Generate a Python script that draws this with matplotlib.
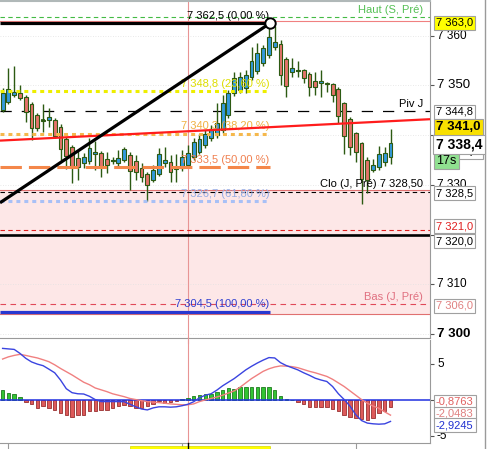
import matplotlib
matplotlib.use("Agg")
import matplotlib.pyplot as plt
import matplotlib.transforms as mtransforms
from matplotlib.lines import Line2D
from matplotlib.patches import Rectangle

plt.rcParams['font.family'] = ['Liberation Sans', 'DejaVu Sans']

# ---------------- candles (68 bars) ----------------
opens = [7345.1, 7346.7, 7348.1, 7348.5, 7347.7, 7346.3, 7344.0, 7343.1, 7343.0, 7343.0,
         7341.6, 7339.2, 7337.6, 7335.4, 7334.4, 7334.8, 7336.2, 7336.4, 7335.2, 7334.9,
         7334.4, 7335.0, 7336.0, 7334.8, 7333.4, 7332.2, 7331.0, 7332.2, 7334.4, 7334.6,
         7333.2, 7333.4, 7334.0, 7335.6, 7336.6, 7338.0, 7339.4, 7340.0, 7341.0, 7344.0,
         7348.5, 7349.1, 7349.5, 7351.7, 7352.9, 7354.5, 7356.1, 7357.7, 7358.3, 7355.3,
         7352.7, 7353.0, 7353.1, 7352.3, 7350.9, 7350.5, 7350.5, 7350.3, 7349.3, 7346.5,
         7343.2, 7340.4, 7338.4, 7335.0, 7333.0, 7333.6, 7334.6, 7335.6]
highs = [7349.5, 7353.5, 7353.9, 7350.0, 7348.0, 7346.6, 7344.4, 7346.3, 7345.5, 7343.4,
         7342.2, 7339.6, 7338.0, 7336.8, 7336.4, 7339.4, 7338.8, 7336.8, 7336.6, 7335.6,
         7337.0, 7337.6, 7336.6, 7336.0, 7334.4, 7332.6, 7334.0, 7337.4, 7337.6, 7336.0,
         7336.2, 7337.0, 7338.0, 7339.4, 7340.2, 7341.0, 7342.0, 7346.4, 7348.1, 7349.1,
         7352.7, 7352.6, 7353.0, 7357.7, 7358.5, 7358.1, 7362.5, 7362.0, 7359.1, 7355.7,
         7355.5, 7354.9, 7353.3, 7352.7, 7352.7, 7353.1, 7350.7, 7350.5, 7349.7, 7346.7,
         7343.6, 7340.6, 7338.6, 7335.6, 7335.2, 7337.8, 7337.6, 7341.2]
lows = [7344.6, 7346.2, 7347.6, 7347.0, 7342.6, 7339.0, 7340.8, 7340.6, 7341.6, 7339.4,
        7335.0, 7333.2, 7330.4, 7331.0, 7333.4, 7334.2, 7333.0, 7331.6, 7332.4, 7334.2,
        7333.8, 7334.6, 7329.0, 7331.0, 7330.6, 7326.7, 7330.6, 7331.8, 7333.6, 7330.6,
        7330.6, 7332.8, 7333.4, 7335.0, 7336.2, 7337.4, 7338.8, 7339.4, 7340.4, 7343.4,
        7347.9, 7348.4, 7348.5, 7351.1, 7352.3, 7353.9, 7355.5, 7357.1, 7350.1, 7347.7,
        7351.7, 7351.7, 7350.5, 7347.9, 7348.1, 7347.7, 7348.6, 7346.7, 7342.4, 7336.2,
        7336.0, 7334.6, 7326.2, 7328.4, 7332.6, 7333.0, 7333.8, 7334.2]
closes = [7348.5, 7349.3, 7348.7, 7347.5, 7344.7, 7341.4, 7341.4, 7342.9, 7343.6, 7339.8,
          7337.2, 7335.8, 7333.6, 7333.6, 7335.6, 7337.4, 7336.6, 7333.6, 7334.0, 7334.7,
          7335.4, 7337.2, 7332.8, 7332.6, 7331.6, 7330.0, 7333.0, 7336.2, 7335.0, 7332.6,
          7333.6, 7335.6, 7336.4, 7338.6, 7339.2, 7340.2, 7341.0, 7342.4, 7346.5, 7348.5,
          7351.5, 7351.7, 7352.1, 7354.9, 7356.5, 7357.5, 7359.7, 7358.7, 7352.1, 7349.9,
          7353.5, 7352.9, 7351.5, 7349.7, 7349.7, 7350.9, 7350.2, 7348.1, 7343.8, 7339.8,
          7337.6, 7336.6, 7331.2, 7331.0, 7334.0, 7336.2, 7336.4, 7338.4]

# ---------------- MACD ----------------
macd_hist = [1.43, 1.06, 0.87, 0.46, -0.23, -0.55, -1.0, -0.83, -1.0, -1.38,
             -1.79, -1.98, -2.34, -2.07, -1.98, -1.52, -1.43, -1.38, -1.38, -1.10,
             -0.83, -0.64, -0.83, -1.0, -1.10, -0.83, -0.55, -0.15, -0.32, -0.23,
             -0.05, 0.18, 0.32, 0.55, 0.74, 0.87, 0.87, 1.15, 1.38, 1.66,
             1.61, 1.79, 1.79, 1.79, 1.79, 1.79, 1.79, 1.43, 0.6, 0.18,
             0.05, -0.28, -0.55, -0.92, -0.92, -0.92, -0.92, -1.24, -1.43, -2.07,
             -2.25, -2.44, -2.62, -2.71, -2.39, -1.70, -1.52, -0.88]
macd_line = [7.17, 7.1, 7.03, 6.48, 5.8, 5.3, 5.0, 4.78, 4.3, 3.8,
             2.8, 1.6, 1.05, 0.9, 0.87, 0.55, 0.1, -0.18, -0.18, -0.18,
             -0.18, -0.2, -0.55, -0.9, -1.2, -1.33, -1.05, -0.9, -0.9, -0.95,
             -0.9, -0.75, -0.55, -0.2, 0.35, 0.7, 0.9, 1.4, 2.0, 2.5,
             3.0, 3.6, 4.2, 4.7, 5.15, 5.55, 5.9, 5.85, 5.2, 4.8,
             4.5, 4.2, 3.8, 3.45, 3.05, 2.8, 2.6, 1.9, 0.9, 0.1,
             -0.8, -2.0, -2.8, -3.15, -3.25, -3.3, -3.25, -2.92]
macd_signal = [5.7, 6.0, 6.2, 6.35, 6.2, 6.02, 5.85, 5.6, 5.33, 4.9,
               4.4, 3.95, 3.5, 3.0, 2.5, 2.15, 1.7, 1.45, 1.2, 0.9,
               0.7, 0.5, 0.25, 0.1, -0.05, -0.18, -0.25, -0.32, -0.41, -0.5,
               -0.56, -0.62, -0.62, -0.5, -0.18, 0.05, 0.25, 0.45, 0.7, 1.0,
               1.3, 1.8, 2.4, 3.0, 3.5, 4.0, 4.35, 4.6, 4.75, 4.72,
               4.65, 4.5, 4.25, 4.0, 3.8, 3.55, 3.3, 2.9, 2.4, 1.9,
               1.3, 0.7, 0.1, -0.4, -0.8, -1.1, -1.6, -2.05]
macd_last = [-0.8763, -2.0483, -2.9245]

# ---------------- levels / drawings ----------------
fib_levels = [7362.5, 7348.8, 7340.3, 7333.5, 7326.7, 7304.5]
fib_pcts = [0.0, 23.6, 38.2, 50.0, 61.8, 100.0]
fib_end_bar = 46.2
haut_sem = 7363.7
day_high = 7363.0
piv_j = 7344.8
clo_j = 7328.5
lvl_red = 7321.0
lvl_black = 7320.0
bas_j = 7306.0
zone_low, zone_high = 7304.0, 7329.0
trend_black_x, trend_black_y = [-0.45, 46.2], [7326.4, 7362.5]
trend_red_x, trend_red_y = [-0.45, 73.82], [7338.9, 7343.2]
price_ticks = [7300, 7310, 7320, 7330, 7340, 7350, 7360]
price_tick_labels = [7360, 7350, 7330, 7310, 7300]
bid_price = 7341.0
last_price = 7338.4
countdown = "17s"
crosshair_bar = 32
time_ticks = [1, 31, 61]


def fmt(v, d=1):
    s = f"{v:,.{d}f}"
    return s.replace(",", " ").replace(".", ",")


W, H = 489, 449
fig = plt.figure(figsize=(W / 100, H / 100), dpi=100)
fig.patch.set_facecolor('white')


def fx(px):
    return px / W


def fy(py):
    return 1 - py / H


ax = fig.add_axes([0, fy(338), fx(430), (338 - 1) / H])
axm = fig.add_axes([0, fy(443), fx(430), (443 - 340) / H])
XMIN, XMAX = -0.45, 73.82
for a in (ax, axm):
    a.set_xlim(XMIN, XMAX)
    a.set_facecolor('white')
ax.set_ylim(7299.22, 7366.96)
axm.set_ylim(-5.9, 8.33)

n = len(opens)
idx = list(range(n))

# zone
ax.axhspan(zone_low, zone_high, facecolor='#fde7e7', edgecolor='none', zorder=0)
ax.axhline(zone_high, color='#e07070', lw=0.8, zorder=1)
ax.axhline(zone_low, color='#e07070', lw=0.8, zorder=1)

# faint grid
for t in price_ticks:
    ax.axhline(t, color='#e2e2e2', lw=0.6, ls=(0, (1, 2)), zorder=0.5)

# horizontal levels
ax.axhline(haut_sem, color='#44bb44', lw=0.8, ls=(0, (4, 3)), zorder=1.5)
ax.axhline(day_high, color='#f08080', lw=0.8, zorder=1.2)
ax.axhline(piv_j, color='black', lw=0.9, ls=(0, (9, 8)), zorder=1.5)
ax.axhline(clo_j, color='black', lw=0.8, ls=(0, (4, 3)), zorder=1.5)
ax.axhline(lvl_red, color='#e02020', lw=0.8, ls=(0, (4, 3)), zorder=1.5)
ax.axhline(lvl_black, color='black', lw=1.9, zorder=1.5)
ax.axhline(bas_j, color='#e04858', lw=0.8, ls=(0, (5, 4)), zorder=1.5)

# crosshair
ax.axvline(crosshair_bar, color='#e89494', lw=0.8, zorder=1)
axm.axvline(crosshair_bar, color='#e89494', lw=0.8, zorder=1)

# candles
EDGE = '#2c5a12'
UP = '#3399dd'
DOWN = '#e5736a'
bw = 0.66
for i in idx:
    o, h, l, c = opens[i], highs[i], lows[i], closes[i]
    ax.vlines(i, l, h, color=EDGE, lw=1.0, zorder=3)
    lo, hi = min(o, c), max(o, c)
    if hi - lo < 0.3:
        ax.hlines((o + c) / 2, i - bw / 2, i + bw / 2, color=EDGE, lw=1.2, zorder=3.2)
        ax.add_patch(Rectangle((i - bw / 2, lo), bw, hi - lo,
                               facecolor=UP if c >= o else DOWN, edgecolor=EDGE,
                               lw=0.8, zorder=3.1))
    else:
        ax.add_patch(Rectangle((i - bw / 2, lo), bw, hi - lo,
                               facecolor=UP if c >= o else DOWN, edgecolor=EDGE,
                               lw=0.8, zorder=3.1))

# fibonacci lines
fib_styles = [
    dict(color='black', lw=2.3, ls='-'),
    dict(color='#eeee00', lw=2.2, ls=(0, (1.3, 1.3))),
    dict(color='#f5b84c', lw=2.2, ls=(0, (1.3, 1.3))),
    dict(color='#f4874a', lw=2.2, ls=(0, (7, 2.3))),
    dict(color='#a8c0f6', lw=2.2, ls=(0, (1.3, 1.3))),
    dict(color='#2838d0', lw=2.3, ls='-'),
]
fib_text_colors = ['black', '#dede00', '#f0b040', '#f08050', '#94ace6', '#3040d0']
for lev, pct, st, tc in zip(fib_levels, fib_pcts, fib_styles, fib_text_colors):
    ax.hlines(lev, XMIN, fib_end_bar, zorder=4, **{k: v for k, v in st.items() if k != 'ls'},
              linestyles=[st['ls']])
    lab = f"{fmt(lev)} ({pct:.2f} %)".replace('.', ',')
    ax.annotate(lab, (fib_end_bar - 0.1, lev), xytext=(0, 5.5), textcoords='offset points',
                ha='right', va='center', fontsize=8, color=tc, zorder=5)

# trend lines
ax.plot(trend_red_x, trend_red_y, color='#ff1c1c', lw=1.6, zorder=6, solid_capstyle='butt')
ax.plot(trend_black_x, trend_black_y, color='black', lw=2.3, zorder=6, solid_capstyle='butt')
ax.plot(trend_black_x[1], trend_black_y[1], 'o', ms=7.5, mfc='white', mec='black',
        mew=1.4, zorder=7, clip_on=False)

# level labels on chart
lx = 72.6
ax.annotate("Haut (S, Pré)", (lx, haut_sem), xytext=(0, 5.5), textcoords='offset points',
            ha='right', va='center', fontsize=8, color='#55c055')
ax.annotate("Piv J", (lx, piv_j), xytext=(0, 5.5), textcoords='offset points',
            ha='right', va='center', fontsize=8, color='black')
ax.annotate(f"Clo (J, Pré) {fmt(clo_j, 2)}", (lx, clo_j), xytext=(0, 6), textcoords='offset points',
            ha='right', va='center', fontsize=8, color='black', zorder=5)
ax.annotate("Bas (J, Pré)", (lx, bas_j), xytext=(0, 5.5), textcoords='offset points',
            ha='right', va='center', fontsize=8, color='#e07080')

# axes styling
for a in (ax, axm):
    for s in ('left',):
        a.spines[s].set_visible(False)
    a.spines['right'].set_color('#9a9a9a')
    a.spines['top'].set_color('#b0b8b8')
    a.spines['bottom'].set_color('#9a9a9a')
    a.yaxis.tick_right()
    a.tick_params(axis='y', direction='out', length=3, color='#555555', labelright=False,
                  labelleft=False)
ax.spines['top'].set_linewidth(1.5)
axm.spines['top'].set_visible(False)
ax.set_yticks(price_ticks)
ax.set_xticks([])
axm.set_yticks([-5, 0, 5])
axm.set_xticks(time_ticks)
axm.tick_params(axis='x', direction='out', length=4, color='#9a9a9a', labelbottom=False)

tr_p = mtransforms.blended_transform_factory(fig.transFigure, ax.transData)
tr_m = mtransforms.blended_transform_factory(fig.transFigure, axm.transData)
for v in price_tick_labels:
    big = v in (7350, 7300)
    ax.text(fx(437), v, fmt(v, 0), transform=tr_p, ha='left', va='center',
            fontsize=9.5 if big else 8.5, fontweight='bold' if v == 7300 else 'normal',
            clip_on=False)
for v in (5, -5):
    axm.text(fx(437), v, str(v), transform=tr_m, ha='left', va='center', fontsize=8.5,
             clip_on=False)

# MACD
hist_colors = ['#33c433' if h >= 0 else '#dd5a5a' for h in macd_hist]
hist_edges = ['#1d7a1d' if h >= 0 else '#993030' for h in macd_hist]
axm.bar(idx, macd_hist, width=0.6, color=hist_colors, edgecolor=hist_edges, lw=0.6, zorder=2)
axm.axhline(0, color='#2030e0', lw=1.1, zorder=3)
axm.plot(idx, macd_signal, color='#f08080', lw=1.0, zorder=4)
axm.plot(idx, macd_line, color='#3a44e0', lw=1.0, zorder=4)


def box(py, text, color='black', fc='white', size=8, weight='normal', z=5, px=436):
    fig.text(fx(px), fy(py), text, ha='left', va='center', fontsize=size, color=color,
             fontweight=weight, zorder=z,
             bbox=dict(boxstyle='square,pad=0.18', fc=fc, ec='#a0a0a0', lw=0.8))


box(22.5, fmt(day_high), fc='#ffff00')
box(111.5, fmt(piv_j))
box(127.5, fmt(bid_price), fc='#f8e000', size=9.5, weight='bold', z=5)
box(151, fmt(last_price), size=9.5, weight='bold', z=6)
box(160.5, countdown, fc='#90e090', size=9, z=7)
box(144.5, fmt(last_price), size=10, weight='bold', z=8)
box(193, fmt(clo_j))
box(226, fmt(lvl_red), color='#e02020')
box(241, fmt(lvl_black))
box(306, fmt(bas_j), color='#e08080')
box(402, fmt(macd_last[0], 4), color='#e06060')
box(414, fmt(macd_last[1], 4), color='#e08080')
box(425, fmt(macd_last[2], 4), color='#2030d0', z=6)

# figure-level decorations
fig.add_artist(Line2D([fx(485), fx(485)], [0, 1], color='#9a9a9a', lw=1.0))
trx = mtransforms.blended_transform_factory(ax.transData, fig.transFigure)
fig.add_artist(Line2D([crosshair_bar, crosshair_bar], [fy(343), fy(337)], transform=trx,
                      color='#e89494', lw=0.8))
fig.add_artist(Rectangle((fx(130), 0), fx(270) - fx(130), 3 / H, transform=fig.transFigure,
                         facecolor='#ffff00', edgecolor='#d8d800', lw=0.5))
fig.add_artist(Line2D([crosshair_bar, crosshair_bar], [0, fy(443)], transform=trx,
                      color='black', lw=1.0))

fig.savefig('out.png', dpi=100)
